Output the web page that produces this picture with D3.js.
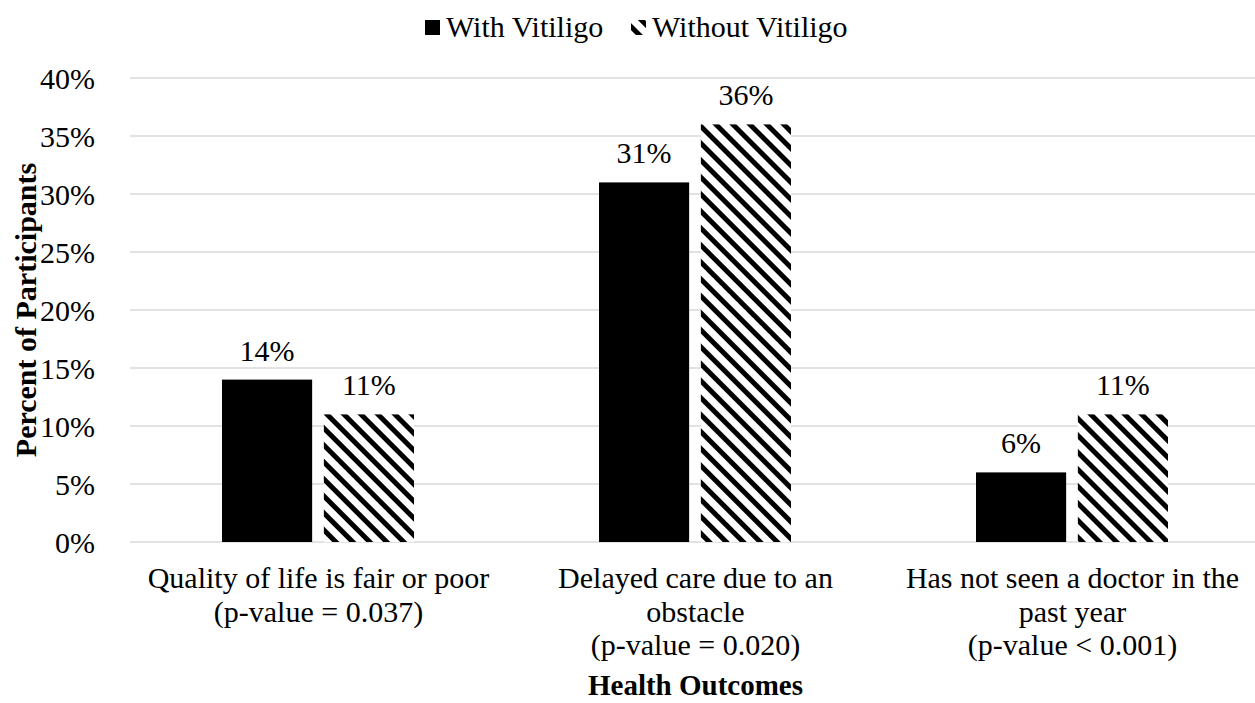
<!DOCTYPE html>
<html>
<head>
<meta charset="utf-8">
<script src="https://cdn.jsdelivr.net/npm/d3@7"></script>
</head>
<body style="margin:0">
<svg id="fig" width="1255" height="703" font-family="Times New Roman, Liberation Serif, serif" style="font-family: 'Times New Roman', 'Liberation Serif', serif"></svg>
<script>
// Health outcomes by vitiligo status
const categories = [
  ["Quality of life is fair or poor", "(p-value = 0.037)"],
  ["Delayed care due to an", "obstacle", "(p-value = 0.020)"],
  ["Has not seen a doctor in the", "past year", "(p-value < 0.001)"]
];
const seriesNames = ["With Vitiligo", "Without Vitiligo"];
const withVitiligo = [14, 31, 6];
const withoutVitiligo = [11, 36, 11];
const yTicks = [0, 5, 10, 15, 20, 25, 30, 35, 40];

const svg = d3.select("#fig");
const margin = { left: 130, right: -6, top: 78, bottom: 161 };
const W = 1255, H = 703;
const plotW = W - margin.left - margin.right;
const plotH = H - margin.top - margin.bottom;

const defs = svg.append("defs");
const pat = defs.append("pattern")
  .attr("id", "hatch")
  .attr("patternUnits", "userSpaceOnUse")
  .attr("width", 12).attr("height", 12)
  .attr("patternTransform", "rotate(45)");
pat.append("rect").attr("width", 12).attr("height", 12).attr("fill", "#fff");
pat.append("rect").attr("width", 12).attr("height", 5).attr("fill", "#000");

const g = svg.append("g").attr("transform", `translate(${margin.left},${margin.top})`);

const x0 = d3.scaleBand().domain(d3.range(categories.length)).range([0, plotW]).padding(0);
const x1 = d3.scaleBand().domain([0, 1]).range([92, 284]).paddingInner(0.115);
const y = d3.scaleLinear().domain([0, 40]).range([plotH, 0]);

// gridlines
g.append("g")
  .selectAll("line").data(yTicks).join("line")
  .attr("x1", 0).attr("x2", plotW)
  .attr("y1", d => y(d)).attr("y2", d => y(d))
  .attr("stroke", "#d9d9d9").attr("stroke-width", 1.3);

// y axis labels (the axis sets its own font; drop it so the serif is inherited)
const yAxis = d3.axisLeft(y).tickValues(yTicks).tickFormat(d => d + "%").tickSize(0).tickPadding(35);
g.append("g").call(yAxis)
  .call(s => s.select(".domain").remove())
  .call(s => s.attr("font-family", null).attr("font-size", null))
  .call(s => s.selectAll("text")
    .attr("font-size", 30).attr("fill", "#000").attr("dy", "0.34em"));

const series = [withVitiligo, withoutVitiligo];
series.forEach((vals, si) => {
  const grp = g.append("g");
  grp.selectAll("rect").data(vals).join("rect")
    .attr("x", (d, i) => x0(i) + x1(si))
    .attr("width", x1.bandwidth())
    .attr("y", d => y(d))
    .attr("height", d => plotH - y(d))
    .attr("fill", si === 0 ? "#000" : "url(#hatch)");
  grp.selectAll("text").data(vals).join("text")
    .attr("x", (d, i) => x0(i) + x1(si) + x1.bandwidth() / 2)
    .attr("y", d => y(d) - 19)
    .attr("text-anchor", "middle")
    .attr("font-size", 30)
    .text(d => d + "%");
});

// category labels
const cat = g.append("g");
categories.forEach((lines, i) => {
  const cx = x0(i) + x0.bandwidth() / 2;
  const t = cat.append("text")
    .attr("x", cx)
    .attr("y", plotH + 46)
    .attr("text-anchor", "middle")
    .attr("font-size", 30);
  lines.forEach((ln, k) => {
    t.append("tspan").attr("x", cx)
      .attr("dy", k === 0 ? 0 : 33.5).text(ln);
  });
});

// axis titles
svg.append("text")
  .attr("transform", `translate(36,${margin.top + plotH / 2}) rotate(-90)`)
  .attr("text-anchor", "middle")
  .attr("font-size", 30).attr("font-weight", "bold")
  .text("Percent of Participants");

svg.append("text")
  .attr("x", margin.left + x0(1) + x0.bandwidth() / 2)
  .attr("y", 695)
  .attr("text-anchor", "middle")
  .attr("font-size", 29).attr("font-weight", "bold")
  .text("Health Outcomes");

// legend
const legend = svg.append("g").attr("transform", "translate(0,37)");
const legendItems = [
  { name: seriesNames[0], fill: "#000", x: 425 },
  { name: seriesNames[1], fill: "url(#hatch)", x: 631 }
];
legendItems.forEach(it => {
  legend.append("rect").attr("x", it.x).attr("y", -17).attr("width", 15).attr("height", 15).attr("fill", it.fill);
  legend.append("text").attr("x", it.x + 21).attr("y", 0)
    .attr("font-size", 30).text(it.name);
});
</script>
</body>
</html>
